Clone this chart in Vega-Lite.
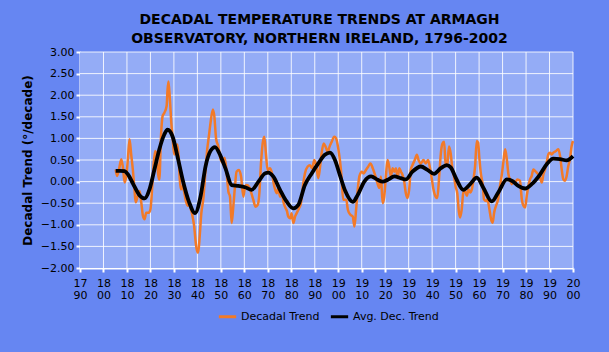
{
 "$schema": "https://vega.github.io/schema/vega-lite/v6.json",
 "width": 493, "height": 216,
 "autosize": {"type": "none"},
 "padding": {"left": 80, "top": 52, "right": 36, "bottom": 84},
 "background": "#6686f2",
 "title": {"text": ["DECADAL TEMPERATURE TRENDS AT ARMAGH", "OBSERVATORY, NORTHERN IRELAND, 1796-2002"], "font": "DejaVu Sans", "fontSize": 14, "fontWeight": "bold", "color": "#000000", "lineHeight": 19, "offset": 0, "dx": -7},
 "data": {"values": [
  {"t":1805.2,"v":0.28,"s":"Decadal Trend"},{"t":1805.8,"v":0.13,"s":"Decadal Trend"},{"t":1806.6,"v":0.28,"s":"Decadal Trend"},{"t":1807.6,"v":0.52,"s":"Decadal Trend"},{"t":1808.3,"v":0.32,"s":"Decadal Trend"},{"t":1809.0,"v":-0.02,"s":"Decadal Trend"},{"t":1809.7,"v":0.13,"s":"Decadal Trend"},{"t":1810.4,"v":0.52,"s":"Decadal Trend"},{"t":1811.1,"v":0.98,"s":"Decadal Trend"},{"t":1811.8,"v":0.63,"s":"Decadal Trend"},{"t":1812.5,"v":0.28,"s":"Decadal Trend"},{"t":1813.2,"v":-0.18,"s":"Decadal Trend"},{"t":1813.7,"v":-0.48,"s":"Decadal Trend"},{"t":1814.6,"v":-0.33,"s":"Decadal Trend"},{"t":1815.4,"v":-0.22,"s":"Decadal Trend"},{"t":1816.1,"v":-0.48,"s":"Decadal Trend"},{"t":1816.8,"v":-0.79,"s":"Decadal Trend"},{"t":1817.5,"v":-0.87,"s":"Decadal Trend"},{"t":1818.2,"v":-0.72,"s":"Decadal Trend"},{"t":1819.3,"v":-0.72,"s":"Decadal Trend"},{"t":1820.0,"v":-0.64,"s":"Decadal Trend"},{"t":1820.7,"v":-0.18,"s":"Decadal Trend"},{"t":1821.3,"v":0.36,"s":"Decadal Trend"},{"t":1822.0,"v":0.71,"s":"Decadal Trend"},{"t":1822.7,"v":0.59,"s":"Decadal Trend"},{"t":1823.4,"v":0.13,"s":"Decadal Trend"},{"t":1823.8,"v":0.05,"s":"Decadal Trend"},{"t":1824.5,"v":1.05,"s":"Decadal Trend"},{"t":1825.2,"v":1.52,"s":"Decadal Trend"},{"t":1825.9,"v":1.59,"s":"Decadal Trend"},{"t":1826.9,"v":1.75,"s":"Decadal Trend"},{"t":1827.3,"v":2.13,"s":"Decadal Trend"},{"t":1827.7,"v":2.32,"s":"Decadal Trend"},{"t":1828.3,"v":1.9,"s":"Decadal Trend"},{"t":1828.9,"v":1.36,"s":"Decadal Trend"},{"t":1829.4,"v":1.05,"s":"Decadal Trend"},{"t":1830.1,"v":0.63,"s":"Decadal Trend"},{"t":1830.8,"v":0.82,"s":"Decadal Trend"},{"t":1831.5,"v":0.86,"s":"Decadal Trend"},{"t":1832.0,"v":0.59,"s":"Decadal Trend"},{"t":1832.5,"v":0.05,"s":"Decadal Trend"},{"t":1833.0,"v":-0.18,"s":"Decadal Trend"},{"t":1833.7,"v":-0.1,"s":"Decadal Trend"},{"t":1834.4,"v":-0.25,"s":"Decadal Trend"},{"t":1835.1,"v":-0.45,"s":"Decadal Trend"},{"t":1835.9,"v":-0.56,"s":"Decadal Trend"},{"t":1836.5,"v":-0.48,"s":"Decadal Trend"},{"t":1837.2,"v":-0.64,"s":"Decadal Trend"},{"t":1837.9,"v":-0.79,"s":"Decadal Trend"},{"t":1838.6,"v":-1.02,"s":"Decadal Trend"},{"t":1839.3,"v":-1.41,"s":"Decadal Trend"},{"t":1840.0,"v":-1.64,"s":"Decadal Trend"},{"t":1840.4,"v":-1.64,"s":"Decadal Trend"},{"t":1841.0,"v":-1.25,"s":"Decadal Trend"},{"t":1841.7,"v":-0.72,"s":"Decadal Trend"},{"t":1842.5,"v":-0.41,"s":"Decadal Trend"},{"t":1843.5,"v":0.28,"s":"Decadal Trend"},{"t":1844.2,"v":0.75,"s":"Decadal Trend"},{"t":1844.9,"v":1.05,"s":"Decadal Trend"},{"t":1845.6,"v":1.36,"s":"Decadal Trend"},{"t":1846.6,"v":1.67,"s":"Decadal Trend"},{"t":1847.2,"v":1.52,"s":"Decadal Trend"},{"t":1848.0,"v":0.98,"s":"Decadal Trend"},{"t":1848.9,"v":0.82,"s":"Decadal Trend"},{"t":1849.9,"v":0.52,"s":"Decadal Trend"},{"t":1850.8,"v":0.44,"s":"Decadal Trend"},{"t":1851.6,"v":0.55,"s":"Decadal Trend"},{"t":1852.5,"v":0.19,"s":"Decadal Trend"},{"t":1853.2,"v":-0.23,"s":"Decadal Trend"},{"t":1853.9,"v":-0.35,"s":"Decadal Trend"},{"t":1854.6,"v":-0.96,"s":"Decadal Trend"},{"t":1855.3,"v":-0.58,"s":"Decadal Trend"},{"t":1856.0,"v":-0.12,"s":"Decadal Trend"},{"t":1856.7,"v":0.23,"s":"Decadal Trend"},{"t":1857.7,"v":0.27,"s":"Decadal Trend"},{"t":1858.6,"v":0.12,"s":"Decadal Trend"},{"t":1859.6,"v":-0.35,"s":"Decadal Trend"},{"t":1860.3,"v":-0.12,"s":"Decadal Trend"},{"t":1861.0,"v":-0.08,"s":"Decadal Trend"},{"t":1862.0,"v":-0.12,"s":"Decadal Trend"},{"t":1862.8,"v":-0.23,"s":"Decadal Trend"},{"t":1863.8,"v":-0.42,"s":"Decadal Trend"},{"t":1864.8,"v":-0.58,"s":"Decadal Trend"},{"t":1865.7,"v":-0.54,"s":"Decadal Trend"},{"t":1866.4,"v":-0.27,"s":"Decadal Trend"},{"t":1867.1,"v":0.42,"s":"Decadal Trend"},{"t":1867.8,"v":0.88,"s":"Decadal Trend"},{"t":1868.5,"v":1.04,"s":"Decadal Trend"},{"t":1869.2,"v":0.65,"s":"Decadal Trend"},{"t":1869.9,"v":0.27,"s":"Decadal Trend"},{"t":1870.9,"v":0.31,"s":"Decadal Trend"},{"t":1871.6,"v":0.23,"s":"Decadal Trend"},{"t":1872.8,"v":-0.12,"s":"Decadal Trend"},{"t":1873.8,"v":-0.27,"s":"Decadal Trend"},{"t":1874.5,"v":-0.15,"s":"Decadal Trend"},{"t":1875.2,"v":-0.35,"s":"Decadal Trend"},{"t":1875.9,"v":-0.23,"s":"Decadal Trend"},{"t":1876.6,"v":-0.46,"s":"Decadal Trend"},{"t":1877.3,"v":-0.58,"s":"Decadal Trend"},{"t":1878.2,"v":-0.69,"s":"Decadal Trend"},{"t":1878.7,"v":-0.81,"s":"Decadal Trend"},{"t":1879.6,"v":-0.85,"s":"Decadal Trend"},{"t":1880.1,"v":-0.73,"s":"Decadal Trend"},{"t":1880.9,"v":-0.96,"s":"Decadal Trend"},{"t":1881.6,"v":-0.81,"s":"Decadal Trend"},{"t":1882.3,"v":-0.73,"s":"Decadal Trend"},{"t":1883.3,"v":-0.62,"s":"Decadal Trend"},{"t":1884.1,"v":-0.5,"s":"Decadal Trend"},{"t":1885.1,"v":-0.04,"s":"Decadal Trend"},{"t":1885.8,"v":0.19,"s":"Decadal Trend"},{"t":1887.0,"v":0.35,"s":"Decadal Trend"},{"t":1887.9,"v":0.38,"s":"Decadal Trend"},{"t":1888.9,"v":0.31,"s":"Decadal Trend"},{"t":1889.8,"v":0.5,"s":"Decadal Trend"},{"t":1890.6,"v":0.38,"s":"Decadal Trend"},{"t":1891.5,"v":0.08,"s":"Decadal Trend"},{"t":1892.2,"v":0.31,"s":"Decadal Trend"},{"t":1892.9,"v":0.65,"s":"Decadal Trend"},{"t":1893.8,"v":0.88,"s":"Decadal Trend"},{"t":1894.6,"v":0.81,"s":"Decadal Trend"},{"t":1895.5,"v":0.69,"s":"Decadal Trend"},{"t":1896.3,"v":0.81,"s":"Decadal Trend"},{"t":1897.2,"v":0.92,"s":"Decadal Trend"},{"t":1898.3,"v":1.04,"s":"Decadal Trend"},{"t":1899.1,"v":1.0,"s":"Decadal Trend"},{"t":1900.0,"v":0.77,"s":"Decadal Trend"},{"t":1900.7,"v":0.5,"s":"Decadal Trend"},{"t":1901.4,"v":0.12,"s":"Decadal Trend"},{"t":1902.1,"v":-0.42,"s":"Decadal Trend"},{"t":1903.4,"v":-0.42,"s":"Decadal Trend"},{"t":1904.1,"v":-0.65,"s":"Decadal Trend"},{"t":1905.2,"v":-0.77,"s":"Decadal Trend"},{"t":1906.2,"v":-0.81,"s":"Decadal Trend"},{"t":1906.9,"v":-1.04,"s":"Decadal Trend"},{"t":1907.6,"v":-0.65,"s":"Decadal Trend"},{"t":1908.3,"v":-0.19,"s":"Decadal Trend"},{"t":1909.0,"v":0.12,"s":"Decadal Trend"},{"t":1910.0,"v":0.23,"s":"Decadal Trend"},{"t":1910.8,"v":0.19,"s":"Decadal Trend"},{"t":1911.8,"v":0.27,"s":"Decadal Trend"},{"t":1912.8,"v":0.35,"s":"Decadal Trend"},{"t":1913.7,"v":0.42,"s":"Decadal Trend"},{"t":1914.7,"v":0.31,"s":"Decadal Trend"},{"t":1915.7,"v":0.15,"s":"Decadal Trend"},{"t":1916.5,"v":0.0,"s":"Decadal Trend"},{"t":1917.5,"v":-0.15,"s":"Decadal Trend"},{"t":1918.2,"v":0.12,"s":"Decadal Trend"},{"t":1918.9,"v":-0.5,"s":"Decadal Trend"},{"t":1919.6,"v":-0.35,"s":"Decadal Trend"},{"t":1920.3,"v":0.12,"s":"Decadal Trend"},{"t":1921.0,"v":0.5,"s":"Decadal Trend"},{"t":1921.7,"v":0.35,"s":"Decadal Trend"},{"t":1922.4,"v":0.12,"s":"Decadal Trend"},{"t":1923.2,"v":0.31,"s":"Decadal Trend"},{"t":1923.9,"v":0.23,"s":"Decadal Trend"},{"t":1924.6,"v":0.31,"s":"Decadal Trend"},{"t":1925.3,"v":0.08,"s":"Decadal Trend"},{"t":1926.0,"v":0.31,"s":"Decadal Trend"},{"t":1926.7,"v":0.23,"s":"Decadal Trend"},{"t":1927.4,"v":0.15,"s":"Decadal Trend"},{"t":1928.1,"v":0.0,"s":"Decadal Trend"},{"t":1928.8,"v":-0.27,"s":"Decadal Trend"},{"t":1929.5,"v":-0.38,"s":"Decadal Trend"},{"t":1930.2,"v":-0.19,"s":"Decadal Trend"},{"t":1930.9,"v":0.27,"s":"Decadal Trend"},{"t":1931.6,"v":0.38,"s":"Decadal Trend"},{"t":1932.6,"v":0.5,"s":"Decadal Trend"},{"t":1933.5,"v":0.62,"s":"Decadal Trend"},{"t":1934.2,"v":0.5,"s":"Decadal Trend"},{"t":1935.2,"v":0.42,"s":"Decadal Trend"},{"t":1936.3,"v":0.5,"s":"Decadal Trend"},{"t":1937.3,"v":0.42,"s":"Decadal Trend"},{"t":1938.3,"v":0.5,"s":"Decadal Trend"},{"t":1939.1,"v":0.31,"s":"Decadal Trend"},{"t":1939.7,"v":0.12,"s":"Decadal Trend"},{"t":1940.6,"v":-0.19,"s":"Decadal Trend"},{"t":1941.5,"v":-0.35,"s":"Decadal Trend"},{"t":1942.2,"v":-0.38,"s":"Decadal Trend"},{"t":1943.0,"v":0.12,"s":"Decadal Trend"},{"t":1943.7,"v":0.65,"s":"Decadal Trend"},{"t":1944.4,"v":0.88,"s":"Decadal Trend"},{"t":1945.1,"v":0.92,"s":"Decadal Trend"},{"t":1945.8,"v":0.35,"s":"Decadal Trend"},{"t":1946.5,"v":0.42,"s":"Decadal Trend"},{"t":1947.2,"v":0.81,"s":"Decadal Trend"},{"t":1947.9,"v":0.65,"s":"Decadal Trend"},{"t":1948.6,"v":0.31,"s":"Decadal Trend"},{"t":1949.3,"v":0.12,"s":"Decadal Trend"},{"t":1950.0,"v":-0.12,"s":"Decadal Trend"},{"t":1950.7,"v":-0.27,"s":"Decadal Trend"},{"t":1951.4,"v":-0.7,"s":"Decadal Trend"},{"t":1951.9,"v":-0.83,"s":"Decadal Trend"},{"t":1952.6,"v":-0.64,"s":"Decadal Trend"},{"t":1953.3,"v":-0.25,"s":"Decadal Trend"},{"t":1954.0,"v":-0.22,"s":"Decadal Trend"},{"t":1954.8,"v":-0.33,"s":"Decadal Trend"},{"t":1955.5,"v":-0.18,"s":"Decadal Trend"},{"t":1956.2,"v":-0.25,"s":"Decadal Trend"},{"t":1956.9,"v":-0.18,"s":"Decadal Trend"},{"t":1957.6,"v":0.05,"s":"Decadal Trend"},{"t":1958.3,"v":0.36,"s":"Decadal Trend"},{"t":1959.0,"v":0.94,"s":"Decadal Trend"},{"t":1959.6,"v":0.9,"s":"Decadal Trend"},{"t":1960.1,"v":0.55,"s":"Decadal Trend"},{"t":1960.7,"v":0.21,"s":"Decadal Trend"},{"t":1961.6,"v":-0.1,"s":"Decadal Trend"},{"t":1962.1,"v":-0.41,"s":"Decadal Trend"},{"t":1963.0,"v":-0.45,"s":"Decadal Trend"},{"t":1963.5,"v":-0.41,"s":"Decadal Trend"},{"t":1964.4,"v":-0.64,"s":"Decadal Trend"},{"t":1965.1,"v":-0.87,"s":"Decadal Trend"},{"t":1965.8,"v":-0.95,"s":"Decadal Trend"},{"t":1966.4,"v":-0.72,"s":"Decadal Trend"},{"t":1967.2,"v":-0.56,"s":"Decadal Trend"},{"t":1968.1,"v":-0.41,"s":"Decadal Trend"},{"t":1968.9,"v":-0.1,"s":"Decadal Trend"},{"t":1969.6,"v":0.13,"s":"Decadal Trend"},{"t":1970.4,"v":0.48,"s":"Decadal Trend"},{"t":1971.1,"v":0.75,"s":"Decadal Trend"},{"t":1971.8,"v":0.52,"s":"Decadal Trend"},{"t":1972.5,"v":0.17,"s":"Decadal Trend"},{"t":1973.2,"v":0.05,"s":"Decadal Trend"},{"t":1973.9,"v":-0.06,"s":"Decadal Trend"},{"t":1974.6,"v":0.02,"s":"Decadal Trend"},{"t":1975.3,"v":-0.02,"s":"Decadal Trend"},{"t":1976.3,"v":0.05,"s":"Decadal Trend"},{"t":1977.4,"v":0.02,"s":"Decadal Trend"},{"t":1978.2,"v":-0.41,"s":"Decadal Trend"},{"t":1978.9,"v":-0.56,"s":"Decadal Trend"},{"t":1979.6,"v":-0.6,"s":"Decadal Trend"},{"t":1980.3,"v":-0.33,"s":"Decadal Trend"},{"t":1981.0,"v":-0.1,"s":"Decadal Trend"},{"t":1981.7,"v":0.05,"s":"Decadal Trend"},{"t":1982.4,"v":0.13,"s":"Decadal Trend"},{"t":1983.1,"v":0.28,"s":"Decadal Trend"},{"t":1983.8,"v":0.25,"s":"Decadal Trend"},{"t":1984.5,"v":0.21,"s":"Decadal Trend"},{"t":1985.2,"v":0.17,"s":"Decadal Trend"},{"t":1986.0,"v":0.09,"s":"Decadal Trend"},{"t":1986.7,"v":-0.02,"s":"Decadal Trend"},{"t":1987.4,"v":0.17,"s":"Decadal Trend"},{"t":1988.1,"v":0.28,"s":"Decadal Trend"},{"t":1988.8,"v":0.44,"s":"Decadal Trend"},{"t":1989.5,"v":0.63,"s":"Decadal Trend"},{"t":1990.2,"v":0.67,"s":"Decadal Trend"},{"t":1990.9,"v":0.63,"s":"Decadal Trend"},{"t":1991.6,"v":0.67,"s":"Decadal Trend"},{"t":1992.8,"v":0.71,"s":"Decadal Trend"},{"t":1993.8,"v":0.75,"s":"Decadal Trend"},{"t":1994.5,"v":0.59,"s":"Decadal Trend"},{"t":1995.2,"v":0.28,"s":"Decadal Trend"},{"t":1995.9,"v":0.05,"s":"Decadal Trend"},{"t":1996.6,"v":0.02,"s":"Decadal Trend"},{"t":1997.3,"v":0.13,"s":"Decadal Trend"},{"t":1998.0,"v":0.36,"s":"Decadal Trend"},{"t":1998.7,"v":0.52,"s":"Decadal Trend"},{"t":1999.4,"v":0.82,"s":"Decadal Trend"},{"t":2000.0,"v":0.94,"s":"Decadal Trend"},
  {"t":1805.2,"v":0.25,"s":"Avg. Dec. Trend"},{"t":1807.0,"v":0.25,"s":"Avg. Dec. Trend"},{"t":1809.0,"v":0.24,"s":"Avg. Dec. Trend"},{"t":1810.5,"v":0.16,"s":"Avg. Dec. Trend"},{"t":1812.5,"v":-0.04,"s":"Avg. Dec. Trend"},{"t":1815.4,"v":-0.32,"s":"Avg. Dec. Trend"},{"t":1817.5,"v":-0.39,"s":"Avg. Dec. Trend"},{"t":1819.6,"v":-0.18,"s":"Avg. Dec. Trend"},{"t":1821.7,"v":0.28,"s":"Avg. Dec. Trend"},{"t":1823.8,"v":0.75,"s":"Avg. Dec. Trend"},{"t":1825.9,"v":1.09,"s":"Avg. Dec. Trend"},{"t":1827.3,"v":1.2,"s":"Avg. Dec. Trend"},{"t":1829.4,"v":1.05,"s":"Avg. Dec. Trend"},{"t":1831.5,"v":0.59,"s":"Avg. Dec. Trend"},{"t":1833.7,"v":0.05,"s":"Avg. Dec. Trend"},{"t":1836.5,"v":-0.48,"s":"Avg. Dec. Trend"},{"t":1839.0,"v":-0.73,"s":"Avg. Dec. Trend"},{"t":1841.4,"v":-0.33,"s":"Avg. Dec. Trend"},{"t":1843.5,"v":0.36,"s":"Avg. Dec. Trend"},{"t":1845.6,"v":0.71,"s":"Avg. Dec. Trend"},{"t":1847.5,"v":0.8,"s":"Avg. Dec. Trend"},{"t":1849.9,"v":0.59,"s":"Avg. Dec. Trend"},{"t":1852.0,"v":0.3,"s":"Avg. Dec. Trend"},{"t":1854.6,"v":-0.08,"s":"Avg. Dec. Trend"},{"t":1857.4,"v":-0.1,"s":"Avg. Dec. Trend"},{"t":1860.3,"v":-0.13,"s":"Avg. Dec. Trend"},{"t":1863.1,"v":-0.19,"s":"Avg. Dec. Trend"},{"t":1866.0,"v":0.0,"s":"Avg. Dec. Trend"},{"t":1868.8,"v":0.19,"s":"Avg. Dec. Trend"},{"t":1870.2,"v":0.21,"s":"Avg. Dec. Trend"},{"t":1872.3,"v":0.12,"s":"Avg. Dec. Trend"},{"t":1875.2,"v":-0.19,"s":"Avg. Dec. Trend"},{"t":1878.0,"v":-0.46,"s":"Avg. Dec. Trend"},{"t":1880.9,"v":-0.62,"s":"Avg. Dec. Trend"},{"t":1883.0,"v":-0.54,"s":"Avg. Dec. Trend"},{"t":1885.8,"v":-0.08,"s":"Avg. Dec. Trend"},{"t":1888.7,"v":0.19,"s":"Avg. Dec. Trend"},{"t":1891.5,"v":0.42,"s":"Avg. Dec. Trend"},{"t":1894.3,"v":0.62,"s":"Avg. Dec. Trend"},{"t":1896.5,"v":0.67,"s":"Avg. Dec. Trend"},{"t":1898.6,"v":0.5,"s":"Avg. Dec. Trend"},{"t":1900.7,"v":0.15,"s":"Avg. Dec. Trend"},{"t":1903.0,"v":-0.22,"s":"Avg. Dec. Trend"},{"t":1906.2,"v":-0.47,"s":"Avg. Dec. Trend"},{"t":1908.3,"v":-0.31,"s":"Avg. Dec. Trend"},{"t":1911.1,"v":0.0,"s":"Avg. Dec. Trend"},{"t":1914.0,"v":0.12,"s":"Avg. Dec. Trend"},{"t":1916.8,"v":0.04,"s":"Avg. Dec. Trend"},{"t":1918.9,"v":0.0,"s":"Avg. Dec. Trend"},{"t":1921.0,"v":0.04,"s":"Avg. Dec. Trend"},{"t":1923.9,"v":0.12,"s":"Avg. Dec. Trend"},{"t":1926.7,"v":0.08,"s":"Avg. Dec. Trend"},{"t":1928.8,"v":0.05,"s":"Avg. Dec. Trend"},{"t":1931.6,"v":0.23,"s":"Avg. Dec. Trend"},{"t":1935.2,"v":0.35,"s":"Avg. Dec. Trend"},{"t":1938.0,"v":0.27,"s":"Avg. Dec. Trend"},{"t":1940.8,"v":0.18,"s":"Avg. Dec. Trend"},{"t":1943.7,"v":0.31,"s":"Avg. Dec. Trend"},{"t":1946.2,"v":0.38,"s":"Avg. Dec. Trend"},{"t":1947.9,"v":0.33,"s":"Avg. Dec. Trend"},{"t":1950.3,"v":0.06,"s":"Avg. Dec. Trend"},{"t":1953.3,"v":-0.19,"s":"Avg. Dec. Trend"},{"t":1956.2,"v":-0.06,"s":"Avg. Dec. Trend"},{"t":1959.0,"v":0.09,"s":"Avg. Dec. Trend"},{"t":1961.8,"v":-0.14,"s":"Avg. Dec. Trend"},{"t":1965.4,"v":-0.46,"s":"Avg. Dec. Trend"},{"t":1968.2,"v":-0.25,"s":"Avg. Dec. Trend"},{"t":1971.8,"v":0.05,"s":"Avg. Dec. Trend"},{"t":1973.9,"v":0.02,"s":"Avg. Dec. Trend"},{"t":1976.7,"v":-0.1,"s":"Avg. Dec. Trend"},{"t":1979.6,"v":-0.16,"s":"Avg. Dec. Trend"},{"t":1982.4,"v":-0.06,"s":"Avg. Dec. Trend"},{"t":1986.0,"v":0.17,"s":"Avg. Dec. Trend"},{"t":1988.8,"v":0.4,"s":"Avg. Dec. Trend"},{"t":1991.6,"v":0.53,"s":"Avg. Dec. Trend"},{"t":1994.5,"v":0.52,"s":"Avg. Dec. Trend"},{"t":1997.3,"v":0.49,"s":"Avg. Dec. Trend"},{"t":2000.0,"v":0.59,"s":"Avg. Dec. Trend"}
 ]},
 "layer": [
  {"data": {"values": [{"x0": 1790, "x1": 2000, "y0": -2, "y1": 3}]},
   "mark": {"type": "rect", "color": "#94acf6"},
   "encoding": {
    "x": {"field": "x0", "type": "quantitative", "scale": {"domain": [1790, 2000], "nice": false, "zero": false},
          "axis": {"title": null, "grid": false, "values": [1790,1800,1810,1820,1830,1840,1850,1860,1870,1880,1890,1900,1910,1920,1930,1940,1950,1960,1970,1980,1990,2000], "format": "d", "labelExpr": "[substring(datum.label,0,2), substring(datum.label,2,4)]", "labelPadding": 5, "labelLineHeight": 12, "labelFlush": false, "labelOverlap": false}},
    "x2": {"field": "x1"},
    "y": {"field": "y0", "type": "quantitative", "scale": {"domain": [-2, 3], "nice": false, "zero": false},
          "axis": {"title": "Decadal Trend (°/decade)", "grid": false, "values": [-2,-1.5,-1,-0.5,0,0.5,1,1.5,2,2.5,3], "format": ".2f", "titlePadding": 6, "labelOverlap": false}},
    "y2": {"field": "y1"}
   }},
  {"data": {"values": [{"g":1800},{"g":1810},{"g":1820},{"g":1830},{"g":1840},{"g":1850},{"g":1860},{"g":1870},{"g":1880},{"g":1890},{"g":1900},{"g":1910},{"g":1920},{"g":1930},{"g":1940},{"g":1950},{"g":1960},{"g":1970},{"g":1980},{"g":1990},{"g":2000}]},
   "mark": {"type": "rule", "color": "#ffffff", "opacity": 0.85, "strokeWidth": 1},
   "encoding": {"x": {"field": "g", "type": "quantitative",
          "axis": {"title": null, "grid": false, "values": [1790,1800,1810,1820,1830,1840,1850,1860,1870,1880,1890,1900,1910,1920,1930,1940,1950,1960,1970,1980,1990,2000], "format": "d", "labelExpr": "[substring(datum.label,0,2), substring(datum.label,2,4)]", "labelPadding": 5, "labelLineHeight": 12, "labelFlush": false, "labelOverlap": false}}}},
  {"data": {"values": [{"h":-1.5},{"h":-1},{"h":-0.5},{"h":0},{"h":0.5},{"h":1},{"h":1.5},{"h":2},{"h":2.5},{"h":3}]},
   "mark": {"type": "rule", "color": "#ffffff", "opacity": 0.85, "strokeWidth": 1},
   "encoding": {"y": {"field": "h", "type": "quantitative",
          "axis": {"title": "Decadal Trend (°/decade)", "grid": false, "values": [-2,-1.5,-1,-0.5,0,0.5,1,1.5,2,2.5,3], "format": ".2f", "titlePadding": 6, "labelOverlap": false}}}},
  {"transform": [{"filter": "datum.s === 'Decadal Trend'"}],
   "mark": {"type": "line", "strokeWidth": 2.5, "interpolate": "monotone"},
   "encoding": {
    "x": {"field": "t", "type": "quantitative",
          "axis": {"title": null, "grid": false, "values": [1790,1800,1810,1820,1830,1840,1850,1860,1870,1880,1890,1900,1910,1920,1930,1940,1950,1960,1970,1980,1990,2000], "format": "d", "labelExpr": "[substring(datum.label,0,2), substring(datum.label,2,4)]", "labelPadding": 5, "labelLineHeight": 12, "labelFlush": false, "labelOverlap": false}},
    "y": {"field": "v", "type": "quantitative",
          "axis": {"title": "Decadal Trend (°/decade)", "grid": false, "values": [-2,-1.5,-1,-0.5,0,0.5,1,1.5,2,2.5,3], "format": ".2f", "titlePadding": 6, "labelOverlap": false}},
    "color": {"field": "s", "type": "nominal", "scale": {"domain": ["Decadal Trend", "Avg. Dec. Trend"], "range": ["#f27a28", "#000000"]},
              "legend": {"title": null, "orient": "none", "legendX": 137, "legendY": 254, "direction": "horizontal", "symbolType": "stroke", "symbolStrokeWidth": 3, "symbolSize": 300, "labelFont": "DejaVu Sans", "labelFontSize": 11, "labelColor": "#000000", "columnPadding": 4, "labelOffset": 3}}
   }},
  {"transform": [{"filter": "datum.s === 'Avg. Dec. Trend'"}],
   "mark": {"type": "line", "strokeWidth": 3.8, "interpolate": "monotone"},
   "encoding": {
    "x": {"field": "t", "type": "quantitative",
          "axis": {"title": null, "grid": false, "values": [1790,1800,1810,1820,1830,1840,1850,1860,1870,1880,1890,1900,1910,1920,1930,1940,1950,1960,1970,1980,1990,2000], "format": "d", "labelExpr": "[substring(datum.label,0,2), substring(datum.label,2,4)]", "labelPadding": 5, "labelLineHeight": 12, "labelFlush": false, "labelOverlap": false}},
    "y": {"field": "v", "type": "quantitative",
          "axis": {"title": "Decadal Trend (°/decade)", "grid": false, "values": [-2,-1.5,-1,-0.5,0,0.5,1,1.5,2,2.5,3], "format": ".2f", "titlePadding": 6, "labelOverlap": false}},
    "color": {"field": "s", "type": "nominal"}
   }}
 ],
 "config": {
  "view": {"stroke": null},
  "axis": {"domainColor": "#ffffff", "domainWidth": 2, "tickColor": "#ffffff", "tickSize": 4, "tickWidth": 2, "labelFont": "DejaVu Sans", "labelFontSize": 11, "labelColor": "#000000", "titleFont": "DejaVu Sans", "titleFontSize": 12, "titleFontWeight": "bold", "titleColor": "#000000"}
 }
}
